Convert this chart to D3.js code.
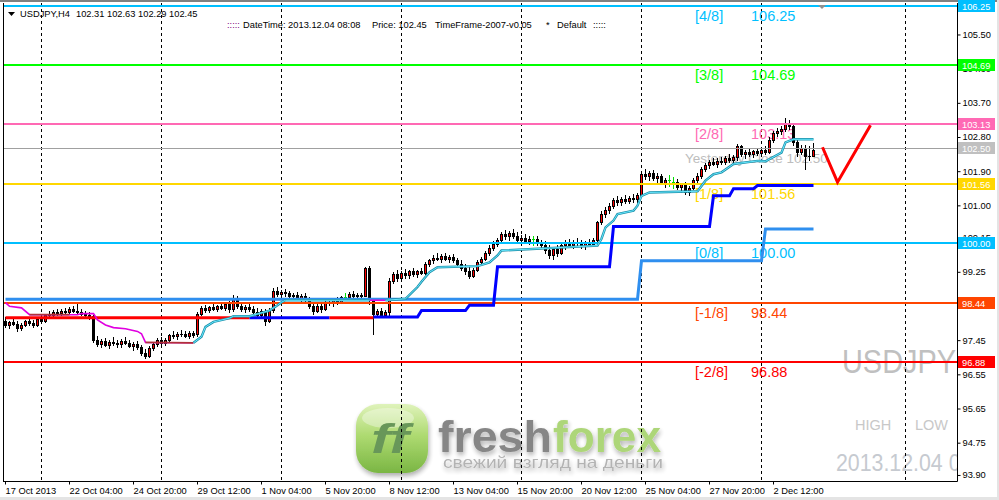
<!DOCTYPE html>
<html><head><meta charset="utf-8">
<script src="https://cdn.jsdelivr.net/npm/d3@7"></script>
<style>
body{margin:0;background:#fff;}
svg{display:block;}
text{font-family:"Liberation Sans",Arial,sans-serif;}
</style>
</head><body>
<svg id="c" width="999" height="500"></svg>
<script>
// ---------------- DATA ----------------
// H4 candles [open, high, low, close], bar 0 = 17 Oct 2013
const candles = [
[97.95,98.05,97.80,97.85],[97.85,97.95,97.78,97.92],[97.92,98.00,97.85,97.88],[97.88,97.95,97.70,97.76],
[97.76,97.90,97.72,97.86],[97.86,97.98,97.82,97.95],[97.95,98.02,97.85,97.90],[97.90,97.98,97.80,97.84],
[97.84,98.04,97.82,98.00],[98.00,98.10,97.92,97.96],[97.96,98.15,97.94,98.12],[98.12,98.22,98.05,98.10],
[98.10,98.25,98.08,98.20],[98.20,98.28,98.12,98.16],[98.16,98.26,98.10,98.22],[98.22,98.30,98.14,98.18],
[98.18,98.32,98.15,98.27],[98.27,98.35,98.18,98.22],[98.22,98.45,98.15,98.20],[98.20,98.28,98.10,98.14],
[98.14,98.22,98.05,98.10],[98.10,98.18,98.02,98.08],[98.08,98.12,97.40,97.45],[97.45,97.55,97.30,97.36],
[97.36,97.48,97.28,97.42],[97.42,97.50,97.30,97.33],[97.33,97.45,97.25,97.40],[97.40,97.52,97.32,97.38],
[97.38,97.46,97.28,97.35],[97.35,97.48,97.27,97.44],[97.44,97.52,97.34,97.38],[97.38,97.45,97.26,97.30],
[97.30,97.40,97.20,97.36],[97.36,97.42,97.22,97.26],[97.26,97.32,97.05,97.10],[97.10,97.22,96.97,97.02],
[97.02,97.30,97.00,97.25],[97.25,97.40,97.20,97.35],[97.35,97.50,97.30,97.45],[97.45,97.52,97.32,97.38],
[97.38,97.50,97.33,97.46],[97.46,97.62,97.40,97.58],[97.58,97.68,97.50,97.55],[97.55,97.66,97.48,97.62],
[97.62,97.72,97.55,97.60],[97.60,97.70,97.52,97.57],[97.57,97.68,97.50,97.64],[97.64,97.70,97.52,97.58],
[97.60,98.20,97.55,98.15],[98.15,98.35,98.10,98.30],[98.30,98.38,98.20,98.25],[98.25,98.36,98.18,98.32],
[98.32,98.40,98.24,98.28],[98.28,98.38,98.22,98.34],[98.34,98.42,98.26,98.30],[98.30,98.45,98.25,98.40],
[98.40,98.48,98.20,98.26],[98.26,98.65,98.22,98.55],[98.55,98.60,98.30,98.35],[98.35,98.42,98.22,98.28],
[98.28,98.38,98.20,98.33],[98.33,98.40,98.22,98.26],[98.26,98.34,98.15,98.20],[98.20,98.30,98.05,98.12],
[98.12,98.28,98.08,98.22],[98.22,98.26,97.85,97.95],[97.95,98.30,97.92,98.25],[98.25,98.82,98.20,98.75],
[98.75,98.85,98.60,98.66],[98.66,98.78,98.58,98.72],[98.72,98.80,98.62,98.68],[98.68,98.75,98.55,98.60],
[98.60,98.70,98.52,98.65],[98.65,98.72,98.50,98.56],[98.56,98.66,98.48,98.60],[98.60,98.68,98.45,98.50],
[98.50,98.58,98.30,98.35],[98.35,98.42,98.15,98.22],[98.22,98.40,98.18,98.36],[98.36,98.44,98.20,98.28],
[98.28,98.50,98.25,98.46],[98.46,98.55,98.38,98.42],[98.42,98.55,98.36,98.50],[98.50,98.58,98.40,98.45],
[98.45,98.62,98.42,98.58],[98.58,98.70,98.50,98.58],[98.58,98.72,98.52,98.66],[98.66,98.74,98.55,98.60],
[98.60,98.70,98.52,98.64],[98.64,98.70,98.55,98.62],[98.62,99.38,98.60,99.35],[99.35,99.40,98.40,98.50],
[98.50,98.55,97.62,98.15],[98.15,98.28,98.05,98.22],[98.22,98.30,98.08,98.12],[98.12,98.25,98.05,98.20],
[98.20,99.10,98.10,99.00],[99.00,99.25,98.95,99.20],[99.20,99.30,99.00,99.08],[99.08,99.28,99.02,99.22],
[99.22,99.32,99.10,99.16],[99.16,99.30,99.10,99.26],[99.26,99.34,99.15,99.20],[99.20,99.30,99.12,99.27],
[99.27,99.35,99.18,99.22],[99.22,99.50,99.20,99.45],[99.45,99.60,99.40,99.55],[99.55,99.70,99.48,99.62],
[99.62,99.74,99.55,99.60],[99.60,99.72,99.50,99.66],[99.66,99.75,99.55,99.58],[99.58,99.70,99.52,99.65],
[99.65,99.72,99.50,99.55],[99.55,99.62,99.40,99.45],[99.45,99.55,99.30,99.35],[99.35,99.45,99.20,99.28],
[99.28,99.40,99.08,99.15],[99.15,99.35,99.12,99.30],[99.30,99.55,99.26,99.50],[99.50,99.65,99.45,99.60],
[99.60,99.80,99.55,99.75],[99.75,99.95,99.70,99.88],[99.88,100.05,99.82,99.98],[99.98,100.15,99.92,100.10],
[100.10,100.30,100.05,100.25],[100.25,100.35,100.12,100.18],[100.18,100.32,100.10,100.28],[100.28,100.38,100.15,100.20],
[100.20,100.30,100.05,100.10],[100.10,100.22,100.00,100.15],[100.15,100.25,100.02,100.06],[100.06,100.18,99.98,100.12],
[100.12,100.20,99.95,100.12],[100.12,100.18,99.96,100.02],[100.02,100.10,99.88,99.95],[99.95,100.05,99.75,99.82],
[99.82,99.95,99.62,99.70],[99.70,99.90,99.60,99.85],[99.85,99.95,99.66,99.75],[99.75,100.00,99.72,99.95],
[99.95,100.08,99.85,100.02],[100.02,100.12,99.90,99.96],[99.96,100.08,99.88,100.04],[100.04,100.15,99.95,100.00],
[100.00,100.10,99.88,99.94],[99.94,100.06,99.86,100.02],[100.02,100.12,99.92,99.98],[99.98,100.15,99.95,100.10],
[100.10,100.60,100.05,100.55],[100.55,100.85,100.50,100.78],[100.78,100.95,100.70,100.88],[100.88,101.05,100.80,100.98],
[100.98,101.20,100.92,101.15],[101.15,101.25,101.02,101.08],[101.08,101.22,101.00,101.18],[101.18,101.28,101.05,101.12],
[101.12,101.25,101.05,101.20],[101.20,101.30,101.10,101.16],[101.16,101.32,101.10,101.28],[101.28,101.88,101.25,101.82],
[101.82,101.95,101.70,101.76],[101.76,101.90,101.68,101.84],[101.84,101.92,101.68,101.72],[101.72,101.85,101.62,101.78],
[101.78,101.82,101.55,101.60],[101.60,101.72,101.48,101.66],[101.66,101.80,101.50,101.66],[101.62,101.75,101.45,101.62],
[101.62,101.70,101.42,101.48],[101.48,101.60,101.35,101.55],[101.55,101.62,101.30,101.36],[101.36,101.52,101.28,101.46],
[101.46,101.72,101.42,101.68],[101.68,101.85,101.62,101.78],[101.78,102.00,101.72,101.95],[101.95,102.12,101.90,102.05],
[102.05,102.20,101.98,102.15],[102.15,102.25,102.05,102.10],[102.10,102.24,102.02,102.18],[102.18,102.28,102.08,102.14],
[102.14,102.30,102.10,102.25],[102.25,102.35,102.15,102.20],[102.20,102.32,102.12,102.28],[102.28,102.62,102.20,102.55],
[102.55,102.60,102.30,102.35],[102.35,102.45,102.25,102.40],[102.40,102.50,102.30,102.36],[102.36,102.46,102.28,102.42],
[102.42,102.52,102.32,102.38],[102.38,102.50,102.30,102.45],[102.45,102.55,102.35,102.40],[102.40,102.80,102.38,102.72],
[102.72,102.95,102.68,102.90],[102.90,103.05,102.82,102.96],[102.96,103.10,102.88,103.02],[103.02,103.30,102.95,103.15],
[103.15,103.25,103.00,103.10],[103.10,103.18,102.60,102.66],[102.66,102.75,102.30,102.40],[102.40,102.58,102.35,102.52],
[102.52,102.60,101.95,102.30],[102.30,102.55,102.20,102.31],[102.31,102.63,102.29,102.45]
];

// Murrey Math levels
const murreyNames  = ["[4/8]","[3/8]","[2/8]","[1/8]","[0/8]","[-1/8]","[-2/8]"];
const murreyLevels = [106.25, 104.69, 103.13, 101.56, 100.00, 98.44, 96.88];
const yesterdayClose = 102.50;

// price axis tick labels
const priceTicks = [105.50,104.60,103.70,102.80,101.90,101.00,100.15,99.25,98.35,97.45,96.55,95.65,94.75,93.90];

// time axis labels (bar index / text)
const timeBars   = [0,16,32,48,64,80,96,112,128,144,160,176,192];
const timeLabels = ["17 Oct 2013","22 Oct 04:00","24 Oct 20:00","29 Oct 12:00","1 Nov 04:00","5 Nov 20:00",
                    "8 Nov 12:00","13 Nov 04:00","15 Nov 20:00","20 Nov 12:00","25 Nov 04:00","27 Nov 20:00","2 Dec 12:00"];
// period separators (bar index)
const separatorBars = [9,39,69,99,129,159,189,225];

// indicator lines: [bar, price]
const weeklyStep = [[0,98.53],[158,98.53],[159,99.54],[189,99.54],[190,100.38],[202,100.38]];
const stopRed1  = [[0,98.04],[61,98.04]];
const stopBlue1 = [[61,98.04],[81,98.04]];
const stopRed2  = [[81,98.04],[92,98.04]];
const stopBlue2 = [[92,98.06],[103,98.06],[104,98.23],[115,98.23],[116,98.37],[122,98.37],[123,99.38],[151,99.38],
                   [152,100.44],[176,100.44],[177,101.25],[181,101.25],[182,101.44],[187,101.44],[188,101.52],[202,101.52]];
const trendDown1 = [[0,98.44],[1,98.34],[4,98.30],[6,98.12],[18,98.12],[19,98.15],[22,98.15],[23,97.98],[25,97.85],
                    [27,97.78],[30,97.75],[33,97.68],[34,97.62],[35,97.39],[47,97.38]];
const trendFlatA = [[6,98.12],[16,98.12]];
const trendFlatB = [[35,97.39],[47,97.38]];
const trendUp1   = [[47,97.38],[49,97.54],[50,97.80],[52,97.93],[56,98.03],[57,98.08],[61,98.08],[66,98.23],[68,98.37],
                    [69,98.45],[70,98.50],[91,98.50]];
const trendDown2 = [[91,98.50],[95,98.50]];
const trendUp2   = [[95,98.50],[100,98.54],[103,98.85],[104,98.99],[106,99.24],[108,99.37],[118,99.40],[119,99.43],
                    [121,99.50],[123,99.68],[124,99.81],[148,99.94],[149,100.12],[150,100.42],[152,100.60],[153,100.77],
                    [157,100.86],[158,100.99],[159,101.25],[161,101.34],[173,101.37],[175,101.65],[177,101.82],[179,101.87],
                    [182,102.09],[188,102.17],[190,102.16],[194,102.39],[195,102.66],[197,102.74],[202,102.74]];
// hand-drawn forecast
const forecast = [[204.25,102.53],[208,101.61],[216.25,103.11]];

// ---------------- DRAWING ----------------
const svg = d3.select("#c");
const x = d3.scaleLinear().domain([0,1]).range([5,9]);
const y = d3.scaleLinear().domain([96.88,106.25]).range([361.8,6]);
const PL=4, PR=957, PT=3, PB=481;

const murreyColors = ["#00BFFF","#00FF00","#FF69B4","#FFD700","#00BFFF","#FF4500","#FF0000"];

const defs = svg.append("defs");
defs.append("clipPath").attr("id","plot").append("rect")
  .attr("x",PL).attr("y",PT).attr("width",PR-PL).attr("height",PB-PT);
const lg = defs.append("linearGradient").attr("id","lg").attr("x1",0).attr("y1",0).attr("x2",0).attr("y2",1);
lg.append("stop").attr("offset","0%").attr("stop-color","#DDF2B5");
lg.append("stop").attr("offset","45%").attr("stop-color","#A8D866");
lg.append("stop").attr("offset","100%").attr("stop-color","#6FB034");
const blur = defs.append("filter").attr("id","sh").attr("x","-10%").attr("y","-10%").attr("width","130%").attr("height","140%");
blur.append("feGaussianBlur").attr("in","SourceAlpha").attr("stdDeviation",2.5).attr("result","b");
blur.append("feOffset").attr("in","b").attr("dx",1).attr("dy",3).attr("result","o");
blur.append("feComponentTransfer").attr("in","o").attr("result","o2")
   .append("feFuncA").attr("type","linear").attr("slope",0.35);
const fm = blur.append("feMerge"); fm.append("feMergeNode").attr("in","o2"); fm.append("feMergeNode").attr("in","SourceGraphic");

svg.append("rect").attr("width",999).attr("height",500).attr("fill","#fff");
// window frame
svg.append("rect").attr("x",0).attr("y",0).attr("width",999).attr("height",2).attr("fill","#808080");
svg.append("rect").attr("x",0).attr("y",497).attr("width",999).attr("height",3).attr("fill","#E4E4E4");
svg.append("rect").attr("x",997).attr("y",0).attr("width",2).attr("height",500).attr("fill","#E4E4E4");

const plot = svg.append("g").attr("clip-path","url(#plot)");

// logo watermark
const logo = plot.append("g").attr("filter","url(#sh)").attr("opacity",0.92);
logo.append("rect").attr("x",356).attr("y",404).attr("width",72).attr("height",69).attr("rx",22)
  .attr("fill","url(#lg)");
logo.append("ellipse").attr("cx",388).attr("cy",418).attr("rx",26).attr("ry",10).attr("fill","#fff").attr("opacity",0.35);
logo.append("text").attr("x",371).attr("y",453).attr("font-size",40).attr("font-weight","bold").attr("font-style","italic")
  .attr("fill","#5C8F4C").attr("textLength",38).attr("lengthAdjust","spacingAndGlyphs").text("ff");
logo.append("text").attr("x",438).attr("y",452).attr("font-size",44).attr("font-weight","bold")
  .attr("fill","#7C7C7C").attr("textLength",114).attr("lengthAdjust","spacingAndGlyphs").text("fresh");
logo.append("text").attr("x",553).attr("y",452).attr("font-size",44).attr("font-weight","bold")
  .attr("fill","#A7D36E").attr("textLength",108).attr("lengthAdjust","spacingAndGlyphs").text("forex");
logo.append("text").attr("x",443).attr("y",468).attr("font-size",17)
  .attr("fill","#ADADAD").attr("textLength",220).attr("lengthAdjust","spacingAndGlyphs").text("свежий взгляд на деньги");

// text watermarks
plot.append("text").attr("x",842).attr("y",373).attr("font-size",34).attr("fill","#C0C0C0")
  .attr("textLength",114).attr("lengthAdjust","spacingAndGlyphs").text("USDJPY");
plot.append("text").attr("x",855).attr("y",430).attr("font-size",14.5).attr("fill","#C8C8C8").text("HIGH");
plot.append("text").attr("x",915).attr("y",430).attr("font-size",14.5).attr("fill","#C8C8C8").text("LOW");
plot.append("text").attr("x",836).attr("y",471).attr("font-size",24).attr("fill","#C6CAD0")
  .attr("textLength",166).attr("lengthAdjust","spacingAndGlyphs").text("2013.12.04 08:08");

// period separators
plot.append("g").selectAll("line").data(separatorBars).join("line")
  .attr("x1",d=>Math.round(x(d))+0.5).attr("x2",d=>Math.round(x(d))+0.5)
  .attr("y1",PT).attr("y2",PB).attr("stroke","#000").attr("stroke-dasharray","3,3");

// Murrey labels (text)
const lab = plot.append("g").attr("font-size",14.5);
murreyLevels.forEach((v,k)=>{
  const yy = Math.round(y(v)) + 15;
  lab.append("text").attr("x",695).attr("y",yy).attr("fill",murreyColors[k]).text(murreyNames[k]);
  lab.append("text").attr("x",751).attr("y",yy).attr("fill",murreyColors[k]).text(v.toFixed(2));
});
plot.append("text").attr("x",685).attr("y",163).attr("font-size",13.5).attr("fill","#BDBDBD")
  .text("Yesterday Close " + yesterdayClose.toFixed(2));

// candles
const gC = plot.append("g").attr("shape-rendering","crispEdges");
candles.forEach((d,i)=>{
  const [o,h,l,c] = d;
  const cx = Math.round(x(i));
  const doji = Math.abs(c-o) < 0.005;
  const col = doji ? "#00E000" : "#000";
  gC.append("rect").attr("x",cx).attr("width",1).attr("y",Math.round(y(h)))
    .attr("height",Math.max(1,Math.round(y(l))-Math.round(y(h))+1)).attr("fill",col);
  const top = Math.round(y(Math.max(o,c))), bot = Math.round(y(Math.min(o,c)));
  if (doji) { gC.append("rect").attr("x",cx-1).attr("y",top).attr("width",3).attr("height",1).attr("fill",col); return; }
  gC.append("rect").attr("x",cx-1).attr("y",top).attr("width",3).attr("height",bot-top+1).attr("fill","#000");
  if (c>o && bot-top>=2) gC.append("rect").attr("x",cx).attr("y",top+1).attr("width",1).attr("height",bot-top-1).attr("fill","#FF0000");
});

// horizontal level lines
plot.append("g").selectAll("line").data(murreyLevels).join("line")
  .attr("x1",PL).attr("x2",PR).attr("y1",d=>Math.round(y(d))).attr("y2",d=>Math.round(y(d)))
  .attr("stroke",(d,k)=>murreyColors[k]).attr("stroke-width",2);
plot.append("line").attr("x1",PL).attr("x2",PR).attr("y1",Math.round(y(yesterdayClose))+0.5).attr("y2",Math.round(y(yesterdayClose))+0.5)
  .attr("stroke","#A0A0A0").attr("stroke-width",1);

// indicators
const ln = d3.line().x(d=>x(d[0])+0.5).y(d=>y(d[1]));
function path(data,color,w){ plot.append("path").attr("d",ln(data)).attr("fill","none").attr("stroke",color).attr("stroke-width",w); }
path(weeklyStep,"#2F8FEF",3);
path(stopRed1,"#FF0000",3);
path(stopBlue1,"#0000FF",3);
path(stopRed2,"#FF0000",3);
path(stopBlue2,"#0000FF",3);
path(trendDown1,"#E000E0",1.6);
path(trendFlatA,"#B0303A",1.8);
path(trendFlatB,"#B0303A",1.8);
path(trendDown2,"#E000E0",1.6);
[trendUp1, trendUp2].forEach(t=>{ path(t,"#1E8FA8",2.4); path(t,"#66E8FF",1); });
path(forecast,"#FF0000",3);

// chart shift marker
svg.append("path").attr("d","M818,5 L826,5 L822,9 Z").attr("fill","#909090");

// frame lines
svg.append("line").attr("x1",3.5).attr("x2",3.5).attr("y1",PT).attr("y2",PB+0.5).attr("stroke","#000");
svg.append("line").attr("x1",3).attr("x2",PR+0.5).attr("y1",PB+0.5).attr("y2",PB+0.5).attr("stroke","#000");
svg.append("line").attr("x1",PR+0.5).attr("x2",PR+0.5).attr("y1",PT).attr("y2",PB+0.5).attr("stroke","#000");

// price axis
const yAxis = svg.append("g").attr("transform",`translate(${PR+0.5},0)`)
  .call(d3.axisRight(y).tickValues(priceTicks).tickSize(3).tickPadding(2).tickFormat(d3.format(".2f")));
yAxis.select(".domain").remove();
yAxis.selectAll("text").attr("font-size",9.3).attr("font-family","Liberation Sans, Arial, sans-serif").attr("fill","#000");
yAxis.selectAll("line").attr("stroke","#000");

// time axis
const xAxis = svg.append("g").attr("transform",`translate(0,${PB+0.5})`)
  .call(d3.axisBottom(x).tickValues(timeBars).tickSize(3).tickPadding(3).tickFormat((d,k)=>timeLabels[k]));
xAxis.select(".domain").remove();
xAxis.selectAll(".tick").attr("transform",d=>`translate(${Math.round(x(d))+0.5},0)`);
xAxis.selectAll("text").attr("text-anchor","start").attr("x",0).attr("font-size",9.3)
  .attr("font-family","Liberation Sans, Arial, sans-serif").attr("fill","#000");
xAxis.selectAll("line").attr("stroke","#000");

// right price boxes
const boxLevels = murreyLevels.concat([yesterdayClose]);
const boxColors = murreyColors.concat(["#C0C0C0"]);
const bx = svg.append("g");
boxLevels.forEach((v,k)=>{
  const yy = Math.round(y(v));
  bx.append("rect").attr("x",958).attr("y",yy-6).attr("width",37).attr("height",12).attr("fill",boxColors[k]);
  bx.append("text").attr("x",962).attr("y",yy+3.5).attr("font-size",9.3).attr("fill","#fff").text(v.toFixed(2));
});

// header
svg.append("path").attr("d","M8,12 L15,12 L11.5,16 Z").attr("fill","#000");
const hd = svg.append("g").attr("font-size",9.3).attr("fill","#000");
hd.append("text").attr("x",20).attr("y",17).text("USDJPY,H4");
hd.append("text").attr("x",76).attr("y",17).text("102.31 102.63 102.29 102.45");
hd.append("text").attr("x",227).attr("y",28).attr("fill","#800080").text(":::::");
hd.append("text").attr("x",243).attr("y",28).text("DateTime: 2013.12.04 08:08");
hd.append("text").attr("x",372).attr("y",28).text("Price: 102.45");
hd.append("text").attr("x",435).attr("y",28).text("TimeFrame-2007-v0.05");
hd.append("text").attr("x",546).attr("y",28).text("*");
hd.append("text").attr("x",557).attr("y",28).text("Default");
hd.append("text").attr("x",593).attr("y",28).text(":::::");
</script>
</body></html>
